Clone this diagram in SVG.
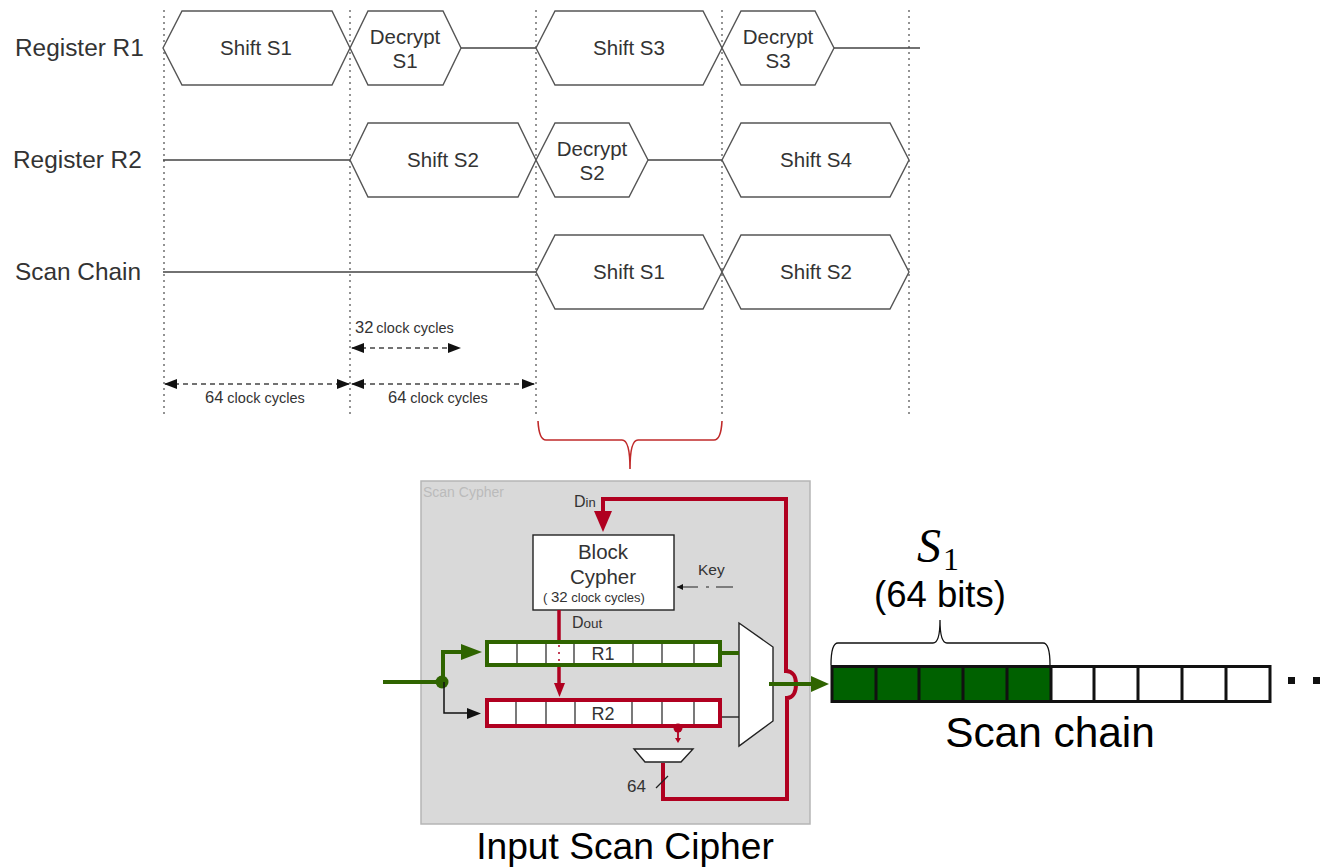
<svg xmlns="http://www.w3.org/2000/svg" width="1336" height="867" viewBox="0 0 1336 867">
<style>
text{font-family:"Liberation Sans",Arial,sans-serif;fill:#333}
.lab{font-size:24.400px}
.t{font-size:20.500px;text-anchor:middle}
.hex{fill:#fff;stroke:#555;stroke-width:1.400}
.wire{fill:none;stroke:#444;stroke-width:1.400}
.grid{fill:none;stroke:#666;stroke-width:1.400;stroke-dasharray:2 4}
.dim{fill:none;stroke:#444;stroke-width:1.400;stroke-dasharray:5 4}
.big{font-size:16.500px}
.sm{font-size:14.500px}
.red{fill:none;stroke:#b00020;stroke-width:4}
.green{fill:none;stroke:#2f6400;stroke-width:4}
.cell{fill:none;stroke:#222;stroke-width:1.200}
.blk{fill:#fff;stroke:#222;stroke-width:1.400}
.k{fill:#111}
.reg{font-size:18px;text-anchor:middle}
.chain{stroke:#111;stroke-width:3}
.hb{fill:#000;text-anchor:middle}
</style>
<defs>
<marker id="ah" markerWidth="13" markerHeight="10" refX="12" refY="5" orient="auto-start-reverse" markerUnits="userSpaceOnUse"><path d="M0 0L13 5L0 10Z" fill="#111"/></marker>
</defs>

<g id="grid-lines">
<path class="grid" d="M164 10V415M350 10V415M536 10V415M722 10V415M909 10V415"/>
</g>

<g id="row-labels">
<text class="lab" x="15" y="56">Register R1</text>
<text class="lab" x="13" y="168">Register R2</text>
<text class="lab" x="15" y="280">Scan Chain</text>
</g>

<g id="timing-connectors">
<path class="wire" d="M461 48H536M834 48H920M163 160H350M648 160H722M163 272H536"/>
</g>

<g id="r1-shift-s1"><path class="hex" d="M163 48L182 11H332L350 48L332 85H182Z"/><text class="t" x="256" y="55">Shift S1</text></g>
<g id="r1-decrypt-s1"><path class="hex" d="M350 48L368 11H443L461 48L443 85H368Z"/><text class="t" x="405" y="44">Decrypt</text><text class="t" x="405" y="68">S1</text></g>
<g id="r1-shift-s3"><path class="hex" d="M536 48L555 11H703L722 48L703 85H555Z"/><text class="t" x="629" y="55">Shift S3</text></g>
<g id="r1-decrypt-s3"><path class="hex" d="M722 48L741 11H815L834 48L815 85H741Z"/><text class="t" x="778" y="44">Decrypt</text><text class="t" x="778" y="68">S3</text></g>
<g id="r2-shift-s2"><path class="hex" d="M350 160L368 123H518L536 160L518 197H368Z"/><text class="t" x="443" y="167">Shift S2</text></g>
<g id="r2-decrypt-s2"><path class="hex" d="M536 160L555 123H629L648 160L629 197H555Z"/><text class="t" x="592" y="156">Decrypt</text><text class="t" x="592" y="180">S2</text></g>
<g id="r2-shift-s4"><path class="hex" d="M722 160L741 123H890L909 160L890 197H741Z"/><text class="t" x="816" y="167">Shift S4</text></g>
<g id="sc-shift-s1"><path class="hex" d="M536 272L555 235H703L722 272L703 309H555Z"/><text class="t" x="629" y="279">Shift S1</text></g>
<g id="sc-shift-s2"><path class="hex" d="M722 272L741 235H890L909 272L890 309H741Z"/><text class="t" x="816" y="279">Shift S2</text></g>

<g id="dimensions">
<path class="dim" d="M352 348H460" marker-start="url(#ah)" marker-end="url(#ah)"/>
<path class="dim" d="M165 384H349" marker-start="url(#ah)" marker-end="url(#ah)"/>
<path class="dim" d="M352 384H534" marker-start="url(#ah)" marker-end="url(#ah)"/>
<text x="355" y="333"><tspan class="big">32</tspan><tspan class="sm" dx="3">clock cycles</tspan></text>
<text x="205" y="403"><tspan class="big">64</tspan><tspan class="sm" dx="4">clock cycles</tspan></text>
<text x="388" y="403"><tspan class="big">64</tspan><tspan class="sm" dx="4">clock cycles</tspan></text>
</g>

<g id="red-brace"><path d="M538 421Q539 440 546 440H622Q630 440 630 469Q630 440 638 440H714Q721 440 722 421" fill="none" stroke="#c02a2a" stroke-width="1.600"/></g>

<g id="scan-cypher-box">
<rect x="421" y="481" width="389" height="343" fill="#d9d9d9" stroke="#b5b5b5" stroke-width="1.500"/>
<text x="423" y="497" style="font-size:14px;fill:#bbb">Scan Cypher</text>
</g>

<g id="block-cypher">
<rect class="blk" x="533" y="535" width="141" height="75"/>
<text x="603" y="559" style="font-size:20.500px;text-anchor:middle">Block</text>
<text x="603" y="584" style="font-size:20.500px;text-anchor:middle">Cypher</text>
<text x="543" y="602" style="font-size:13px">( <tspan style="font-size:15px">32</tspan> clock cycles)</text>
</g>

<g id="register-r1">
<rect x="487" y="642" width="233" height="23" fill="#fff"/>
<path class="cell" d="M517 642V665M546 642V665M574 642V665M633 642V665M662 642V665M694 642V665"/>
<rect class="green" x="487" y="642" width="233" height="23"/>
<text class="reg" x="603" y="660">R1</text>
</g>

<g id="register-r2">
<rect x="488" y="700" width="232" height="26" fill="#fff"/>
<path class="cell" d="M516 700V726M546 700V726M575 700V726M632 700V726M662 700V726M694 700V726"/>
<rect class="red" x="487" y="700" width="233" height="26"/>
<text class="reg" x="603" y="720">R2</text>
</g>

<g id="mux-main"><path class="blk" d="M739 623L773 647V721L739 746Z"/></g>
<g id="mux-small"><path class="blk" d="M634 749H693L681 762H645Z"/></g>

<g id="connectors">
<path class="red" d="M603 513V499H786V671C793 671 796 677 796 684C796 692 793 698 787 698V799H663V763"/>
<path d="M594 511H612L603 532Z" fill="#b00020"/>
<path class="red" d="M559 610V640M559 667V684" style="stroke-width:3.500"/>
<path d="M559 645V663" fill="none" stroke="#b00020" stroke-width="1.500" stroke-dasharray="2 5"/>
<path d="M554 683H565L559.500 697Z" fill="#b00020"/>
<circle cx="678" cy="728" r="4.500" fill="#b00020"/>
<path d="M678 732V738" fill="none" stroke="#b00020" stroke-width="1.800"/>
<path d="M675 738H681L678 743Z" fill="#b00020"/>
<path class="green" d="M383 682H443V652H463"/>
<path d="M461 644L482 652L461 660Z" fill="#2f6400"/>
<circle cx="442" cy="682" r="6.500" fill="#2f6400"/>
<path d="M444 682V713H468" fill="none" stroke="#111" stroke-width="1.500"/>
<path d="M467 708L481 713.500L467 719Z" fill="#111"/>
<path class="green" d="M722 653H739"/>
<path d="M722 717H739" fill="none" stroke="#222" stroke-width="1.400"/>
<path class="green" d="M769 684H812"/>
<path d="M811 676L829 684L811 692Z" fill="#2f6400"/>
<path d="M733 587H716M709 587H706M698 587H677" fill="none" stroke="#222" stroke-width="1.200"/>
<path d="M683 584L677 587L683 590Z" fill="#111"/>
<path d="M656 788L668 776" fill="none" stroke="#222" stroke-width="1.200"/>
</g>

<g id="wire-labels">
<text x="574" y="507" style="font-size:16px">D<tspan style="font-size:13px">in</tspan></text>
<text x="572" y="628" style="font-size:16px">D<tspan style="font-size:13.500px">out</tspan></text>
<text x="698" y="575" style="font-size:15.500px">Key</text>
<text x="627" y="792" style="font-size:17px">64</text>
</g>

<g id="scan-chain">
<rect x="832" y="666.500" width="219" height="35" fill="#006100"/>
<rect x="1051" y="666.500" width="219" height="35" fill="#fff"/>
<path class="chain" fill="none" d="M832 666.500H1270V701.500H832ZM876 666V702M919 666V702M963 666V702M1007 666V702M1051 666V702M1094 666V702M1138 666V702M1182 666V702M1226 666V702"/>
<path class="k" d="M1288 677h7v7h-7zM1313 677h7v7h-7z"/>
<path d="M831 665Q831 643 838 643H933Q940 643 940 620Q940 643 947 643H1043Q1050 643 1050 665" fill="none" stroke="#111" stroke-width="1.300"/>
<text class="hb" x="1050" y="747" style="font-size:42.400px">Scan chain</text>
<text class="hb" x="940" y="607" style="font-size:36.500px">(64 bits)</text>
<text x="917" y="562" style="font-size:48px;font-family:'Liberation Serif',serif;font-style:italic;fill:#000">S</text>
<text x="943" y="570" style="font-size:32px;font-family:'Liberation Serif',serif;fill:#000">1</text>
</g>

<g id="caption"><text class="hb" x="625" y="859" style="font-size:37.200px">Input Scan Cipher</text></g>
</svg>
